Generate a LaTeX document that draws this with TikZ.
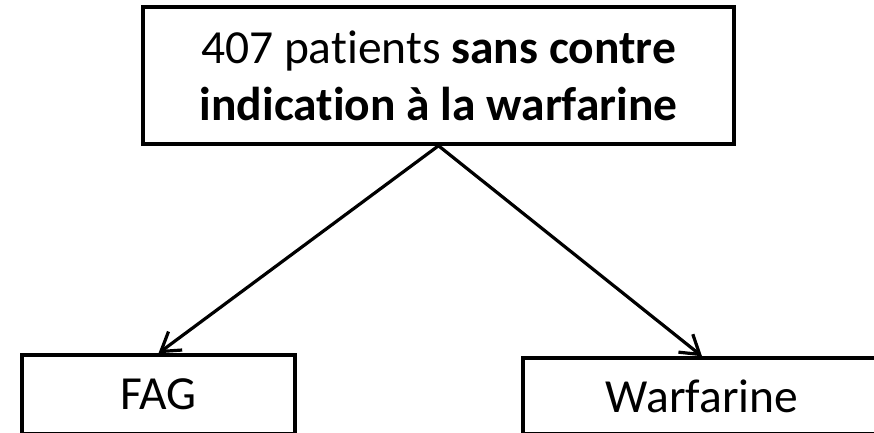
\documentclass[tikz,border=0pt]{standalone}
\usepackage{fontspec}
\setmainfont{Carlito}[Ligatures={NoCommon}]
\usetikzlibrary{arrows.meta}
\begin{document}
\begin{tikzpicture}[x=1pt,y=-1pt,
  box/.style={draw=black,line width=3.5pt,fill=white,rectangle,inner sep=0pt,align=center,
    font=\fontsize{47.5}{57}\selectfont},
  conn/.style={line width=3.2pt,-{Straight Barb[length=18pt,width=23pt,line width=3.2pt]}}]
\useasboundingbox (0,0) rectangle (874,432);
\clip (0,0) rectangle (874,432);
\node[box,minimum width=591pt,minimum height=137pt] (top) at (438.5,75.5)
  {407 patients \textbf{sans contre}\\\textbf{indication à la warfarine}};
\node[box,minimum width=273pt,minimum height=79pt] (fag) at (158.5,394.5) {FAG};
\node[box,minimum width=358pt,minimum height=76pt] (warf) at (702,396) {Warfarine};
\draw[conn] (top.south) -- (fag.north);
\draw[conn] (top.south) -- (warf.north);
\end{tikzpicture}
\end{document}
